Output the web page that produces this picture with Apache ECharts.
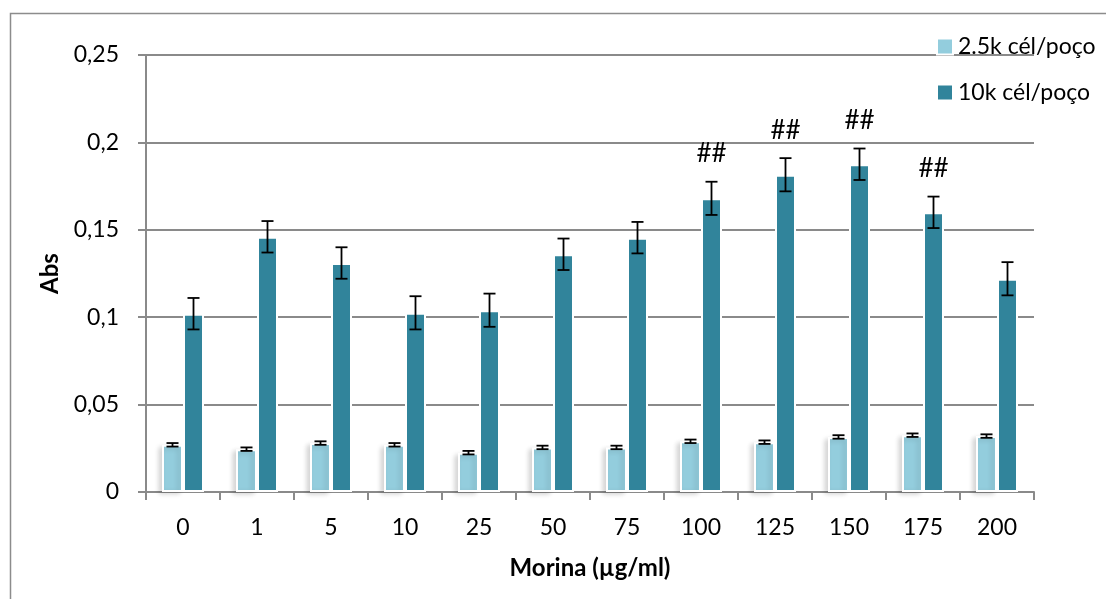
<!DOCTYPE html>
<html>
<head>
<meta charset="utf-8">
<script src="https://cdn.jsdelivr.net/npm/echarts@6/dist/echarts.min.js"></script>
<style>
  html, body { margin: 0; padding: 0; background: #fff; }
  #chart { width: 1106px; height: 599px; }
</style>
</head>
<body>
<div id="chart"></div>
<script>
// Morin concentrations (µg/ml)
const categories = ['0', '1', '5', '10', '25', '50', '75', '100', '125', '150', '175', '200'];

// Absorbance, 2.5k cells per well
const low = [0.027, 0.0245, 0.028, 0.027, 0.0225, 0.0255, 0.0255, 0.029, 0.0285, 0.0315, 0.0325, 0.032];
const lowErr = [0.001, 0.001, 0.001, 0.001, 0.001, 0.001, 0.001, 0.001, 0.001, 0.001, 0.001, 0.001];

// Absorbance, 10k cells per well
const high = [0.102, 0.146, 0.131, 0.1025, 0.104, 0.136, 0.1455, 0.168, 0.1815, 0.1875, 0.16, 0.122];
const highErr = [0.009, 0.009, 0.009, 0.0095, 0.0095, 0.009, 0.009, 0.0095, 0.0095, 0.009, 0.009, 0.0095];

// Significance marks above the 10k bars
const signif = ['', '', '', '', '', '', '', '##', '##', '##', '##', ''];

const seriesNames = ['2.5k cél/poço', '10k cél/poço'];
const yTicks = { min: 0, max: 0.25, step: 0.05 };

const FONT = 'Lato, "Open Sans", sans-serif';
const BAR_W = 21;
const AXIS_GREY = '#8a8a8a';

function errorSeries(values, errs, offset, marks) {
  return {
    type: 'custom',
    silent: true,
    z: 5,
    data: values.map((v, i) => [i, v, errs[i]]),
    renderItem: function (params, api) {
      const i = api.value(0), v = api.value(1), e = api.value(2);
      const top = api.coord([i, v + e]);
      const bot = api.coord([i, v - e]);
      const x = top[0] + offset;
      const cap = 6;
      const st = { stroke: '#000', lineWidth: 1.8 };
      const children = [
        { type: 'line', shape: { x1: x, y1: top[1], x2: x, y2: bot[1] }, style: st },
        { type: 'line', shape: { x1: x - cap, y1: top[1], x2: x + cap, y2: top[1] }, style: st },
        { type: 'line', shape: { x1: x - cap, y1: bot[1], x2: x + cap, y2: bot[1] }, style: st }
      ];
      const mark = marks ? marks[params.dataIndex] : '';
      if (mark) {
        children.push({
          type: 'text',
          style: {
            x: x, y: top[1] - 28, text: mark,
            font: '26px ' + FONT, fill: '#000',
            textAlign: 'center', textVerticalAlign: 'middle'
          }
        });
      }
      return { type: 'group', children: children };
    }
  };
}

const chart = echarts.init(document.getElementById('chart'));
chart.setOption({
  animation: false,
  backgroundColor: '#fff',
  textStyle: { fontFamily: FONT },
  graphic: [{
    type: 'rect',
    left: 8, top: 11,
    shape: { width: 1120, height: 620 },
    style: { fill: 'none', stroke: '#8c8c8c', lineWidth: 1.5 },
    silent: true
  }],
  grid: { left: 146, top: 55, right: 72, bottom: 107 },
  legend: {
    orient: 'vertical',
    left: 931, top: 30,
    itemWidth: 16, itemHeight: 16, itemGap: 23,
    icon: 'rect',
    textStyle: { fontSize: 23, color: '#000', fontFamily: FONT, padding: [0, 0, 0, 0] },
    data: seriesNames
  },
  xAxis: {
    type: 'category',
    data: categories,
    name: 'Morina (µg/ml)',
    nameLocation: 'middle',
    nameGap: 64,
    nameTextStyle: { fontSize: 24, fontWeight: 'bold', color: '#000', fontFamily: FONT },
    axisLine: { lineStyle: { color: AXIS_GREY, width: 2 } },
    axisTick: { show: true, length: 8, lineStyle: { color: AXIS_GREY, width: 2 } },
    axisLabel: { fontSize: 23, color: '#000', margin: 24, fontFamily: FONT },
    splitLine: { show: false }
  },
  yAxis: {
    type: 'value',
    min: yTicks.min, max: yTicks.max, interval: yTicks.step,
    name: 'Abs',
    nameLocation: 'middle',
    nameRotate: 90,
    nameGap: 84,
    nameTextStyle: { fontSize: 24, fontWeight: 'bold', color: '#000', fontFamily: FONT },
    axisLine: { show: true, lineStyle: { color: AXIS_GREY, width: 2 } },
    axisTick: { show: true, length: 8, lineStyle: { color: AXIS_GREY, width: 2 } },
    axisLabel: {
      fontSize: 23, color: '#000', margin: 27, fontFamily: FONT,
      formatter: v => String(+v.toFixed(2)).replace('.', ',')
    },
    splitLine: { show: true, lineStyle: { color: AXIS_GREY, width: 2 } }
  },
  series: [
    {
      name: seriesNames[0],
      type: 'bar',
      data: low,
      barWidth: BAR_W,
      barGap: '0%',
      itemStyle: {
        color: '#93cddd',
        borderColor: '#fff', borderWidth: 2,
        shadowColor: 'rgba(0,0,0,0.16)', shadowBlur: 5, shadowOffsetX: -3, shadowOffsetY: 2
      },
      z: 2
    },
    {
      name: seriesNames[1],
      type: 'bar',
      data: high,
      barWidth: BAR_W,
      barGap: '0%',
      itemStyle: { color: '#31849b', borderColor: '#fff', borderWidth: 2 },
      z: 3
    },
    errorSeries(low, lowErr, -BAR_W / 2, null),
    errorSeries(high, highErr, BAR_W / 2, signif)
  ]
});
</script>
</body>
</html>
